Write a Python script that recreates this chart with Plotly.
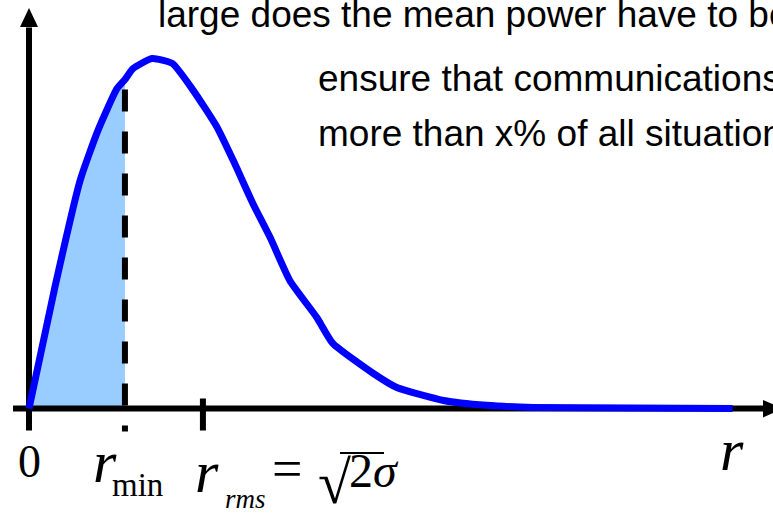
import plotly.graph_objects as go

# Rayleigh envelope, r in units of sigma, density relative to its peak
r_sigma = [0.0, 0.21, 0.415, 0.56, 0.715, 0.78, 0.845, 1.0, 1.165, 1.335,
           1.53, 1.66, 1.82, 1.96, 2.12, 2.34, 2.47, 2.80, 2.99, 3.37,
           3.72, 4.10, 5.72]
density = [0.0, 0.346, 0.651, 0.794, 0.914, 0.94, 0.971, 1.0, 0.986, 0.909,
           0.803, 0.709, 0.586, 0.489, 0.366, 0.26, 0.186, 0.10, 0.06, 0.023,
           0.009, 0.003, 0.0]
r_min = 0.78
r_rms = 1.414

question_lines = [
    "large does the mean power have to be",
    "ensure that communications",
    "more than x% of all situations",
]

W, H = 773, 519
# pixel frame of the drawing: origin column, baseline row, sigma and peak in px
X0, Y0, SIG_PX, PEAK_PX = 29, 408.5, 123, 350
x_range = [-X0 / SIG_PX, (W - X0) / SIG_PX]
y_range = [-(H - Y0) / PEAK_PX, Y0 / PEAK_PX]


def px_x(x):
    return x / W


def px_y(y):
    return 1 - y / H


def dx(px):
    return px / SIG_PX


def dy(px):
    return px / PEAK_PX


BLUE = "#0000FF"
FILL = "#99CCFF"

fig = go.Figure()

# shaded outage probability, 0 .. r_min
fill_r = [r for r in r_sigma if r <= r_min]
fill_p = [p for r, p in zip(r_sigma, density) if r <= r_min]
fig.add_trace(go.Scatter(
    x=fill_r + [r_min], y=fill_p + [0], mode="lines",
    line=dict(width=0, color=FILL), fill="tozeroy", fillcolor=FILL,
    hoverinfo="skip"))

# axes (drawn as traces so the curve sits on top of them)
fig.add_trace(go.Scatter(
    x=[-dx(16), x_range[1] - dx(10)], y=[0, 0], mode="lines",
    line=dict(color="black", width=6), hoverinfo="skip"))
fig.add_trace(go.Scatter(
    x=[0, 0], y=[-dy(22), dy(381)], mode="lines",
    line=dict(color="black", width=6), hoverinfo="skip"))
# tick at r_rms
fig.add_trace(go.Scatter(
    x=[r_rms, r_rms], y=[dy(10), -dy(22)], mode="lines",
    line=dict(color="black", width=6), hoverinfo="skip"))
# dashed marker at r_min
fig.add_trace(go.Scatter(
    x=[r_min, r_min], y=[dy(319), -dy(23)], mode="lines",
    line=dict(color="black", width=6, dash="22px,20px"), hoverinfo="skip"))

# pdf curve
fig.add_trace(go.Scatter(
    x=r_sigma, y=density, mode="lines",
    line=dict(color=BLUE, width=7, shape="spline", smoothing=0.5),
    hoverinfo="skip"))

# arrow heads
shapes = [
    dict(type="path", xref="paper", yref="paper",
         path=f"M {px_x(20)} {px_y(27)} L {px_x(38)} {px_y(27)} L {px_x(29)} {px_y(8)} Z",
         fillcolor="black", line=dict(width=0)),
    dict(type="path", xref="paper", yref="paper",
         path=f"M {px_x(763)} {px_y(400)} L {px_x(763)} {px_y(417.5)} L {px_x(783)} {px_y(408.7)} Z",
         fillcolor="black", line=dict(width=0)),
    # vinculum of the square root
    dict(type="line", xref="paper", yref="paper",
         x0=px_x(340), x1=px_x(384), y0=px_y(453), y1=px_y(453),
         line=dict(color="black", width=2)),
]

SANS = "Liberation Sans"
SERIF = "Liberation Serif"
METRICS = {SANS: (0.905, 0.212), SERIF: (0.891, 0.216)}


def label(text, x_left, baseline, size, family, anchor="left"):
    asc, desc = METRICS[family]
    centre = baseline - (asc - desc) / 2 * size
    return dict(text=text, x=px_x(x_left), y=px_y(centre), xref="paper",
                yref="paper", xanchor=anchor, yanchor="middle",
                showarrow=False, borderpad=0,
                font=dict(family=family, size=size, color="black"))


annotations = [
    label(question_lines[0], 157, 27, 37, SANS),
    label(question_lines[1], 317, 91, 37, SANS),
    label(question_lines[2], 317, 146, 37, SANS),
    label("0", 30, 477, 46, SERIF, anchor="center"),
    label("<i>r</i>", 92, 482, 60, SERIF),
    label("min", 111, 496, 33, SERIF),
    label("<i>r</i>", 194, 492, 60, SERIF),
    label("<i>rms</i>", 224, 508, 27, SERIF),
    label("=", 271, 487, 54, SERIF),
    label("√", 317, 503, 60, SERIF),
    label("2<i>σ</i>", 348, 487, 48, SERIF),
    label("<i>r</i>", 719, 470, 60, SERIF),
]

fig.update_layout(
    width=W, height=H, margin=dict(l=0, r=0, t=0, b=0),
    paper_bgcolor="white", plot_bgcolor="white", showlegend=False,
    xaxis=dict(range=x_range, visible=False, fixedrange=True),
    yaxis=dict(range=y_range, visible=False, fixedrange=True),
    shapes=shapes, annotations=annotations,
)

fig.write_html("out.html")
